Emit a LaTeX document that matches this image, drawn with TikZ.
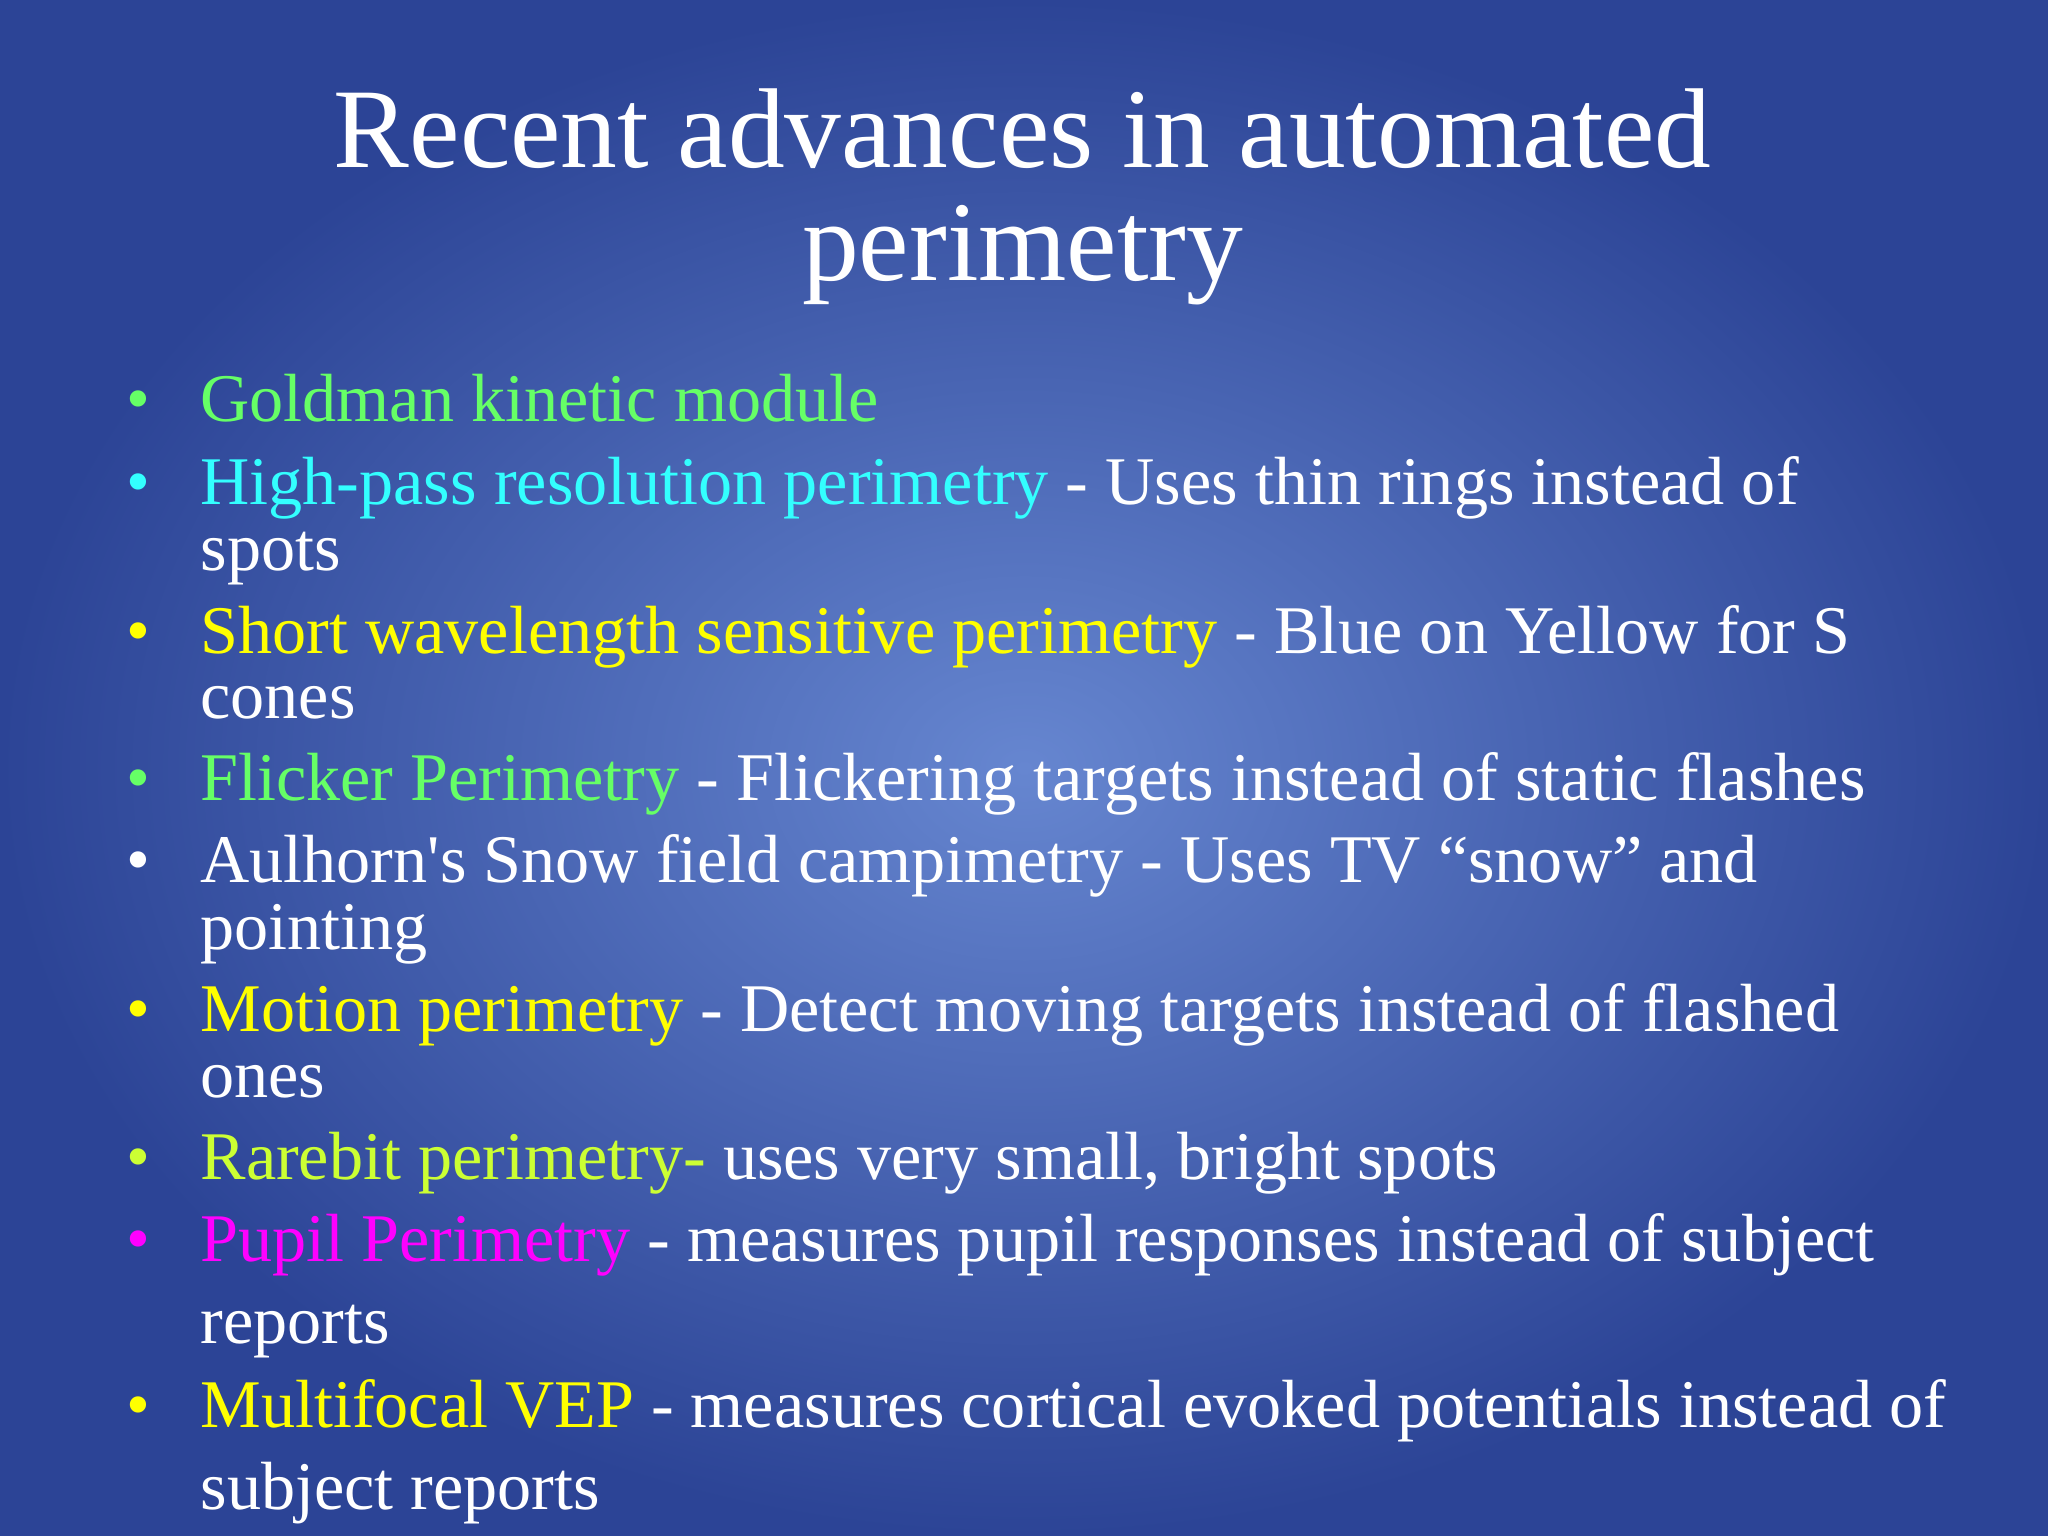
\documentclass[tikz,border=0pt]{standalone}
\usepackage{fontspec}
\setmainfont{Liberation Serif}
\newfontfamily\plainf{Liberation Serif}
\definecolor{bggreen}{HTML}{66FF66}
\definecolor{bgcyan}{HTML}{33FFFF}
\definecolor{bgyellow}{HTML}{FFFF00}
\definecolor{bglime}{HTML}{CCFF33}
\definecolor{bgmag}{HTML}{FF00FF}
\definecolor{bgin}{HTML}{6686D0}
\definecolor{bgout}{HTML}{2C4496}
\begin{document}
\begin{tikzpicture}[x=0.013061cm,y=-0.013061cm,
  ttl/.style={anchor=base,text=white,font=\fontsize{32.3}{38}\selectfont,inner sep=0},
  ln/.style={anchor=base west,text=white,font=\fontsize{19.4}{24}\selectfont,inner sep=0},
  bul/.style={anchor=base west,font=\fontsize{19.4}{24}\selectfont,inner sep=0}]
\useasboundingbox (0,0) rectangle (1568,1176);
\shade[inner color=bgin,outer color=bgout] (0,0) rectangle (1568,1176);
\node[ttl] (t1) at (783,128) {Recent advances in automated};
\node[ttl] (t2) at (783,215) {perimetry};
\foreach \y/\c in {323/bggreen,386/bgcyan,500/bgyellow,613/bggreen,676/white,790/bgyellow,903/bglime,966/bgmag,1093/bgyellow}
  \node[bul,text=\c] at (96,\y) {•};
\node[ln] (l1) at (153,323) {\textcolor{bggreen}{Goldman kinetic module}};
\node[ln] (l2) at (153,386) {\textcolor{bgcyan}{High-pass resolution perimetry} - Uses thin rings instead of};
\node[ln] (l2b) at (153,437) {spots};
\node[ln] (l3) at (153,500) {\textcolor{bgyellow}{Short wavelength sensitive perimetry} - Blue on Yellow for S};
\node[ln] (l3b) at (153,550) {cones};
\node[ln] (l4) at (153,613) {\textcolor{bggreen}{Flicker Perimetry} - Flickering targets instead of static flashes};
\node[ln] (l5) at (153,676) {Aulhorn{\plainf'}s Snow field campimetry - Uses TV “snow” and};
\node[ln] (l5b) at (153,727) {pointing};
\node[ln] (l6) at (153,790) {\textcolor{bgyellow}{Motion perimetry} - Detect moving targets instead of flashed};
\node[ln] (l6b) at (153,840) {ones};
\node[ln] (l7) at (153,903) {\textcolor{bglime}{Rarebit perimetry-} uses very small, bright spots};
\node[ln] (l8) at (153,966) {\textcolor{bgmag}{Pupil Perimetry} - measures pupil responses instead of subject};
\node[ln] (l8b) at (153,1029) {reports};
\node[ln] (l9) at (153,1093) {\textcolor{bgyellow}{Multifocal VEP} - measures cortical evoked potentials instead of};
\node[ln] (l9b) at (153,1156) {subject reports};
\end{tikzpicture}
\end{document}
